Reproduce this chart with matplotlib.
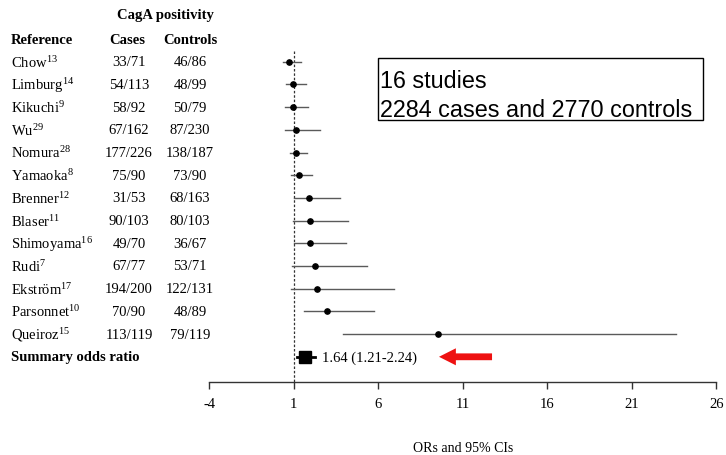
import matplotlib
matplotlib.use("Agg")
import matplotlib.pyplot as plt
from matplotlib.transforms import blended_transform_factory
from matplotlib.patches import Rectangle, FancyArrow

plt.rcParams['mathtext.fontset'] = 'custom'
plt.rcParams['mathtext.rm'] = 'Liberation Serif'
plt.rcParams['mathtext.it'] = 'Liberation Serif:italic'
plt.rcParams['mathtext.bf'] = 'Liberation Serif:bold'

# ---- data ----
studies = ["Chow", "Limburg", "Kikuchi", "Wu", "Nomura", "Yamaoka", "Brenner",
           "Blaser", "Shimoyama", "Rudi", "Ekström", "Parsonnet", "Queiroz"]
refs = ["13", "14", "9", "29", "28", "8", "12", "11", "16", "7", "17", "10", "15"]
cases = ["33/71", "54/113", "58/92", "67/162", "177/226", "75/90", "31/53",
         "90/103", "49/70", "67/77", "194/200", "70/90", "113/119"]
controls = ["46/86", "48/99", "50/79", "87/230", "138/187", "73/90", "68/163",
            "80/103", "36/67", "53/71", "122/131", "48/89", "79/119"]
or_vals = [0.72, 0.93, 0.95, 1.15, 1.13, 1.29, 1.92, 1.98, 1.98, 2.27, 2.37, 2.96, 9.55]
ci_lo = [0.38, 0.54, 0.50, 0.50, 0.78, 0.82, 1.03, 0.97, 1.03, 0.91, 0.82, 1.59, 3.89]
ci_hi = [1.43, 1.70, 1.86, 2.53, 1.80, 2.08, 3.72, 4.22, 4.09, 5.35, 6.93, 5.76, 23.63]
summary_or = 1.64
summary_lo = 1.21
summary_hi = 2.24
xticks = [-4, 1, 6, 11, 16, 21, 26]

W, H = 726, 456
fig = plt.figure(figsize=(W / 100, H / 100), dpi=100)

ax_left, ax_right = 209.3, 716.3
y_axis_px = 382.7
row0_px, row_step = 62.7, 22.7
ytop = -2.0
ybot = (y_axis_px - row0_px) / row_step
top_px = row0_px + row_step * ytop
ax = fig.add_axes([ax_left / W, (H - y_axis_px) / H, (ax_right - ax_left) / W,
                   (y_axis_px - top_px) / H])
ax.set_xlim(-4, 26)
ax.set_ylim(ybot, ytop)

serif = 'Liberation Serif'
fs = 10.5

# study rows
for i in range(len(studies)):
    ax.plot([ci_lo[i], ci_hi[i]], [i, i], color='#5a5a5a', lw=1.0, zorder=2)
    ax.plot(or_vals[i], i, 'o', color='black', ms=3.8, zorder=3)

# summary
si = len(studies)
ax.plot([summary_lo, summary_hi], [si, si], color='black', lw=2, zorder=2)
ax.plot(summary_or, si, 's', color='black', ms=8, zorder=3)
ax.text(summary_hi + 0.45, si, f"{summary_or:.2f} ({summary_lo:.2f}-{summary_hi:.2f})",
        family=serif, fontsize=fs, va='center', ha='left')

# reference dashed line at 1
ax.plot([1, 1], [-0.45, ybot], color='#333333', lw=0.9, ls=(0, (2, 1.5)), zorder=1,
        clip_on=False)

# arrow
ax.add_patch(FancyArrow(12.73, si, -3.14, 0, width=0.30, head_width=0.75,
                        head_length=1.0, length_includes_head=True,
                        color='#ee1111', lw=0))

# axes styling
for s in ['top', 'right', 'left']:
    ax.spines[s].set_visible(False)
ax.spines['bottom'].set_color('#333333')
ax.spines['bottom'].set_linewidth(1.0)
ax.set_yticks([])
ax.set_xticks(xticks)
ax.set_xticklabels([str(t) for t in xticks], family=serif, fontsize=fs)
ax.tick_params(axis='x', length=5, width=1, color='#333333', pad=6)

fig.text((ax_left + ax_right) / 2 / W, 1 - 449 / H, "ORs and 95% CIs",
         family=serif, fontsize=fs - 0.5, ha='center', va='center')

# left table
tr = blended_transform_factory(fig.transFigure, ax.transData)
x_name = 11 / W
x_cases = 129 / W
x_ctrl = 190 / W
fig.text(165 / W, (16 - row0_px) / row_step, "CagA positivity", transform=tr,
         family=serif, fontsize=fs, weight='bold', ha='center', va='center')
fig.text(x_name, -1, "Reference", transform=tr, family=serif, fontsize=fs,
         weight='bold', ha='left', va='center')
fig.text(127 / W, -1, "Cases", transform=tr, family=serif, fontsize=fs,
         weight='bold', ha='center', va='center')
fig.text(x_ctrl, -1, "Controls", transform=tr, family=serif, fontsize=fs,
         weight='bold', ha='center', va='center')
for i in range(len(studies)):
    fig.text(x_name, i, studies[i] + r"$^{\mathrm{" + refs[i] + "}}$", transform=tr,
             family=serif, fontsize=fs, ha='left', va='center')
    fig.text(x_cases, i, cases[i], transform=tr, family=serif, fontsize=fs,
             ha='center', va='center')
    fig.text(x_ctrl, i, controls[i], transform=tr, family=serif, fontsize=fs,
             ha='center', va='center')
fig.text(x_name, si, "Summary odds ratio", transform=tr, family=serif, fontsize=fs,
         weight='bold', ha='left', va='center')

# annotation box
bx0, bx1, by0, by1 = 378.3, 703.3, 59, 121
fig.add_artist(Rectangle((bx0 / W, 1 - by1 / H), (bx1 - bx0) / W, (by1 - by0) / H,
                         transform=fig.transFigure, fill=False, edgecolor='black',
                         lw=1.0))
sans = 'Liberation Sans'
fig.text(380 / W, 1 - 88.5 / H, "16 studies", family=sans, fontsize=16.8,
         ha='left', va='baseline')
fig.text(380 / W, 1 - 117 / H, "2284 cases and 2770 controls", family=sans,
         fontsize=16.8, ha='left', va='baseline')

fig.savefig("out.png", dpi=100)
